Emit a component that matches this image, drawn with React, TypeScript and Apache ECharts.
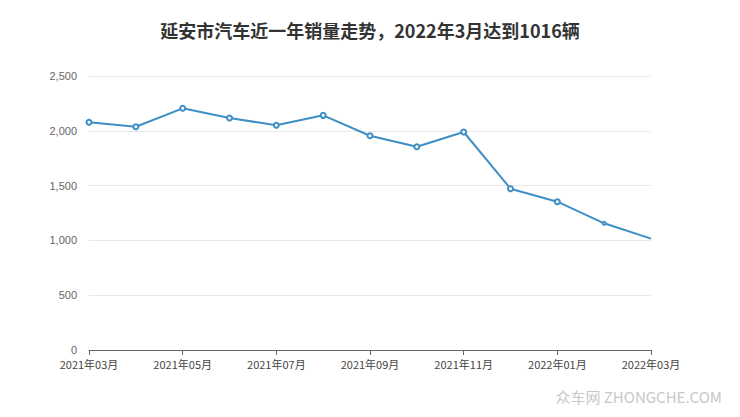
import React, { useEffect, useRef } from "react";
import * as echarts from "echarts";

const months = [
  "2021年03月", "2021年04月", "2021年05月", "2021年06月", "2021年07月",
  "2021年08月", "2021年09月", "2021年10月", "2021年11月", "2021年12月",
  "2022年01月", "2022年02月", "2022年03月",
];
const sales = [2078, 2037, 2205, 2117, 2050, 2141, 1955, 1855, 1989, 1472, 1353, 1156, 1016];
const yTicks = [0, 500, 1000, 1500, 2000, 2500];
const titleText = "延安市汽车近一年销量走势，2022年3月达到1016辆";
const watermark = "众车网 ZHONGCHE.COM";

export default function App() {
  const ref = useRef<HTMLDivElement>(null);
  useEffect(() => {
    if (!ref.current) return;
    const chart = echarts.init(ref.current, undefined, { renderer: "svg" });
    const n = sales.length;
    chart.setOption({
      animation: false,
      backgroundColor: "#ffffff",
      title: {
        text: titleText,
        left: "center",
        top: 16,
        textStyle: { fontSize: 18, fontWeight: "bold", color: "#333333", fontFamily: "Noto Sans CJK SC" },
      },
      graphic: [
        {
          type: "text",
          right: 18,
          top: 389,
          style: { text: watermark, fill: "#c8c8c8", fontSize: 15, fontFamily: "Noto Sans CJK SC" },
        },
      ],
      grid: { left: 89, right: 89, top: 76, bottom: 67, containLabel: false },
      xAxis: {
        type: "category",
        data: months,
        boundaryGap: false,
        axisLine: { lineStyle: { color: "#666666" } },
        axisTick: { interval: 1, lineStyle: { color: "#666666" } },
        axisLabel: { interval: 1, color: "#444444", fontSize: 11, margin: 8, fontFamily: "Noto Sans CJK SC" },
      },
      yAxis: {
        type: "value",
        min: yTicks[0],
        max: yTicks[yTicks.length - 1],
        interval: yTicks[1] - yTicks[0],
        axisLine: { show: false },
        axisTick: { show: false },
        axisLabel: {
          color: "#666666",
          fontSize: 11,
          margin: 12,
          fontFamily: "Liberation Sans",
          formatter: (v: number) => v.toLocaleString("en-US"),
        },
        splitLine: { lineStyle: { color: "#e8e8e8" } },
      },
      series: [
        {
          type: "line",
          data: sales.map((v, i) =>
            i === n - 1 ? { value: v, symbol: "none" } : i === n - 2 ? { value: v, symbolSize: 3 } : v
          ),
          symbol: "emptyCircle",
          symbolSize: 5,
          showAllSymbol: true,
          lineStyle: { color: "#3d8fc6", width: 2 },
          itemStyle: { color: "#3d8fc6", borderWidth: 1.5 },
        },
      ],
    });
    return () => chart.dispose();
  }, []);
  return <div ref={ref} style={{ width: 740, height: 417, position: "absolute", left: 0, top: 0 }} />;
}
